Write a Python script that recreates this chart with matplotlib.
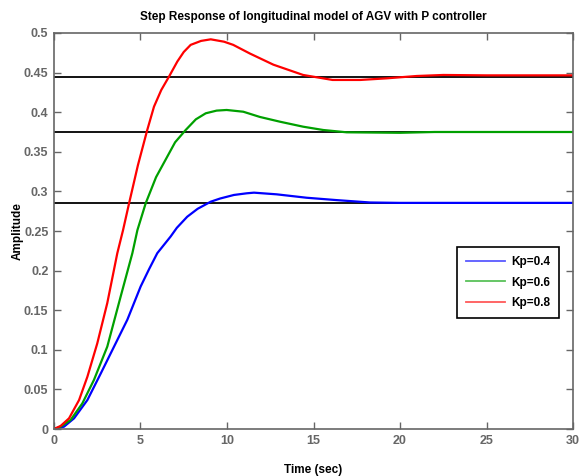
import matplotlib.pyplot as plt

# step response samples read per controller gain
t_04 = [0, 0.58, 1.16, 1.93, 2.7, 3.47, 4.24, 5.01, 5.5, 5.97, 6.74, 7.1, 7.7, 8.3, 9.06, 9.6,
        10.4, 11.14, 11.56, 12.87, 14.6, 16.34, 18.27, 20, 25, 30]
y_04 = [0, 0.003, 0.0135, 0.0366, 0.070, 0.104, 0.138, 0.180, 0.202, 0.222, 0.243, 0.254, 0.268, 0.278,
        0.287, 0.291, 0.2955, 0.2976, 0.2984, 0.2963, 0.292, 0.289, 0.286, 0.2855, 0.2855, 0.2855]

t_06 = [0, 0.39, 0.96, 1.64, 2.31, 3.08, 3.85, 4.53, 4.82, 5.3, 5.9, 6.55, 7.0, 7.61, 8.2, 8.77,
        9.4, 9.98, 10.94, 11.9, 13.06, 14.4, 15.57, 16.92, 20, 22, 25, 30]
y_06 = [0, 0.003, 0.0114, 0.0324, 0.062, 0.104, 0.167, 0.222, 0.251, 0.285, 0.318, 0.344, 0.362, 0.3775,
        0.391, 0.3986, 0.402, 0.4028, 0.4006, 0.394, 0.388, 0.3817, 0.3775, 0.3746, 0.374, 0.375, 0.375, 0.375]

t_08 = [0, 0.39, 0.87, 1.45, 1.93, 2.5, 3.08, 3.66, 3.99, 4.34, 4.85, 5.39, 5.78, 6.2, 6.65, 7.13,
        7.5, 7.9, 8.5, 9.06, 9.83, 10.36, 11.33, 12.68, 14.4, 16.1, 17.7, 19.2, 20.97, 22.5, 25, 30]
y_08 = [0, 0.004, 0.0135, 0.0366, 0.066, 0.108, 0.159, 0.222, 0.251, 0.285, 0.333, 0.3775, 0.407, 0.428,
        0.445, 0.464, 0.476, 0.485, 0.490, 0.492, 0.489, 0.485, 0.474, 0.46, 0.447, 0.4407, 0.4407, 0.4427,
        0.4457, 0.447, 0.4465, 0.4465]

# steady-state reference levels
levels = [0.2857, 0.375, 0.4444]
labels = ['Kp=0.4', 'Kp=0.6', 'Kp=0.8']

font = ['Liberation Sans', 'DejaVu Sans']
grey = '#666666'

fig = plt.figure(figsize=(5.85, 4.76), dpi=100)
ax = fig.add_axes([0.0923, 0.0987, 0.8872, 0.832])

for lv in levels:
    ax.plot([0, 30], [lv, lv], color='black', lw=1.3, zorder=1)

ax.plot(t_04, y_04, color='#0000ff', lw=1.6, label=labels[0], zorder=2)
ax.plot(t_06, y_06, color='#00a000', lw=1.6, label=labels[1], zorder=2)
ax.plot(t_08, y_08, color='#ff0000', lw=1.6, label=labels[2], zorder=2)

ax.set_xlim(0, 30)
ax.set_ylim(0, 0.5)
ax.set_xticks([0, 5, 10, 15, 20, 25, 30])
ax.set_yticks([0, 0.05, 0.1, 0.15, 0.2, 0.25, 0.3, 0.35, 0.4, 0.45, 0.5])
ax.set_xticklabels(['0', '5', '10', '15', '20', '25', '30'])
ax.set_yticklabels(['0', '0.05', '0.1', '0.15', '0.2', '0.25', '0.3', '0.35', '0.4', '0.45', '0.5'])
ax.tick_params(direction='in', top=True, right=True, length=5, width=1, colors=grey,
               labelsize=9, pad=4)
for lab in ax.get_xticklabels() + ax.get_yticklabels():
    lab.set_family(font)
    lab.set_fontweight('bold')
    lab.set_color(grey)
for sp in ax.spines.values():
    sp.set_color(grey)
    sp.set_linewidth(1.2)

ax.set_title('Step Response of longitudinal model of AGV with P controller',
             family=font, fontweight='bold', fontsize=8.5, pad=9)
ax.set_xlabel('Time (sec)', family=font, fontweight='bold', fontsize=8.5)
ax.set_ylabel('Amplitude', family=font, fontweight='bold', fontsize=8.5)
ax.xaxis.set_label_coords(0.5, -0.088)
ax.yaxis.set_label_coords(-0.058, 0.5)

leg = ax.legend(loc='upper left', bbox_to_anchor=(0.766, 0.475), fancybox=False,
                edgecolor='black', framealpha=1, borderpad=0.75, labelspacing=0.75,
                handlelength=3.3, handletextpad=0.5,
                prop={'family': font, 'weight': 'bold', 'size': 8.5})
leg.get_frame().set_linewidth(1.2)
for ln in leg.get_lines():
    ln.set_linewidth(1.3)
    ln.set_alpha(0.65)

fig.savefig('out.png', dpi=100)
